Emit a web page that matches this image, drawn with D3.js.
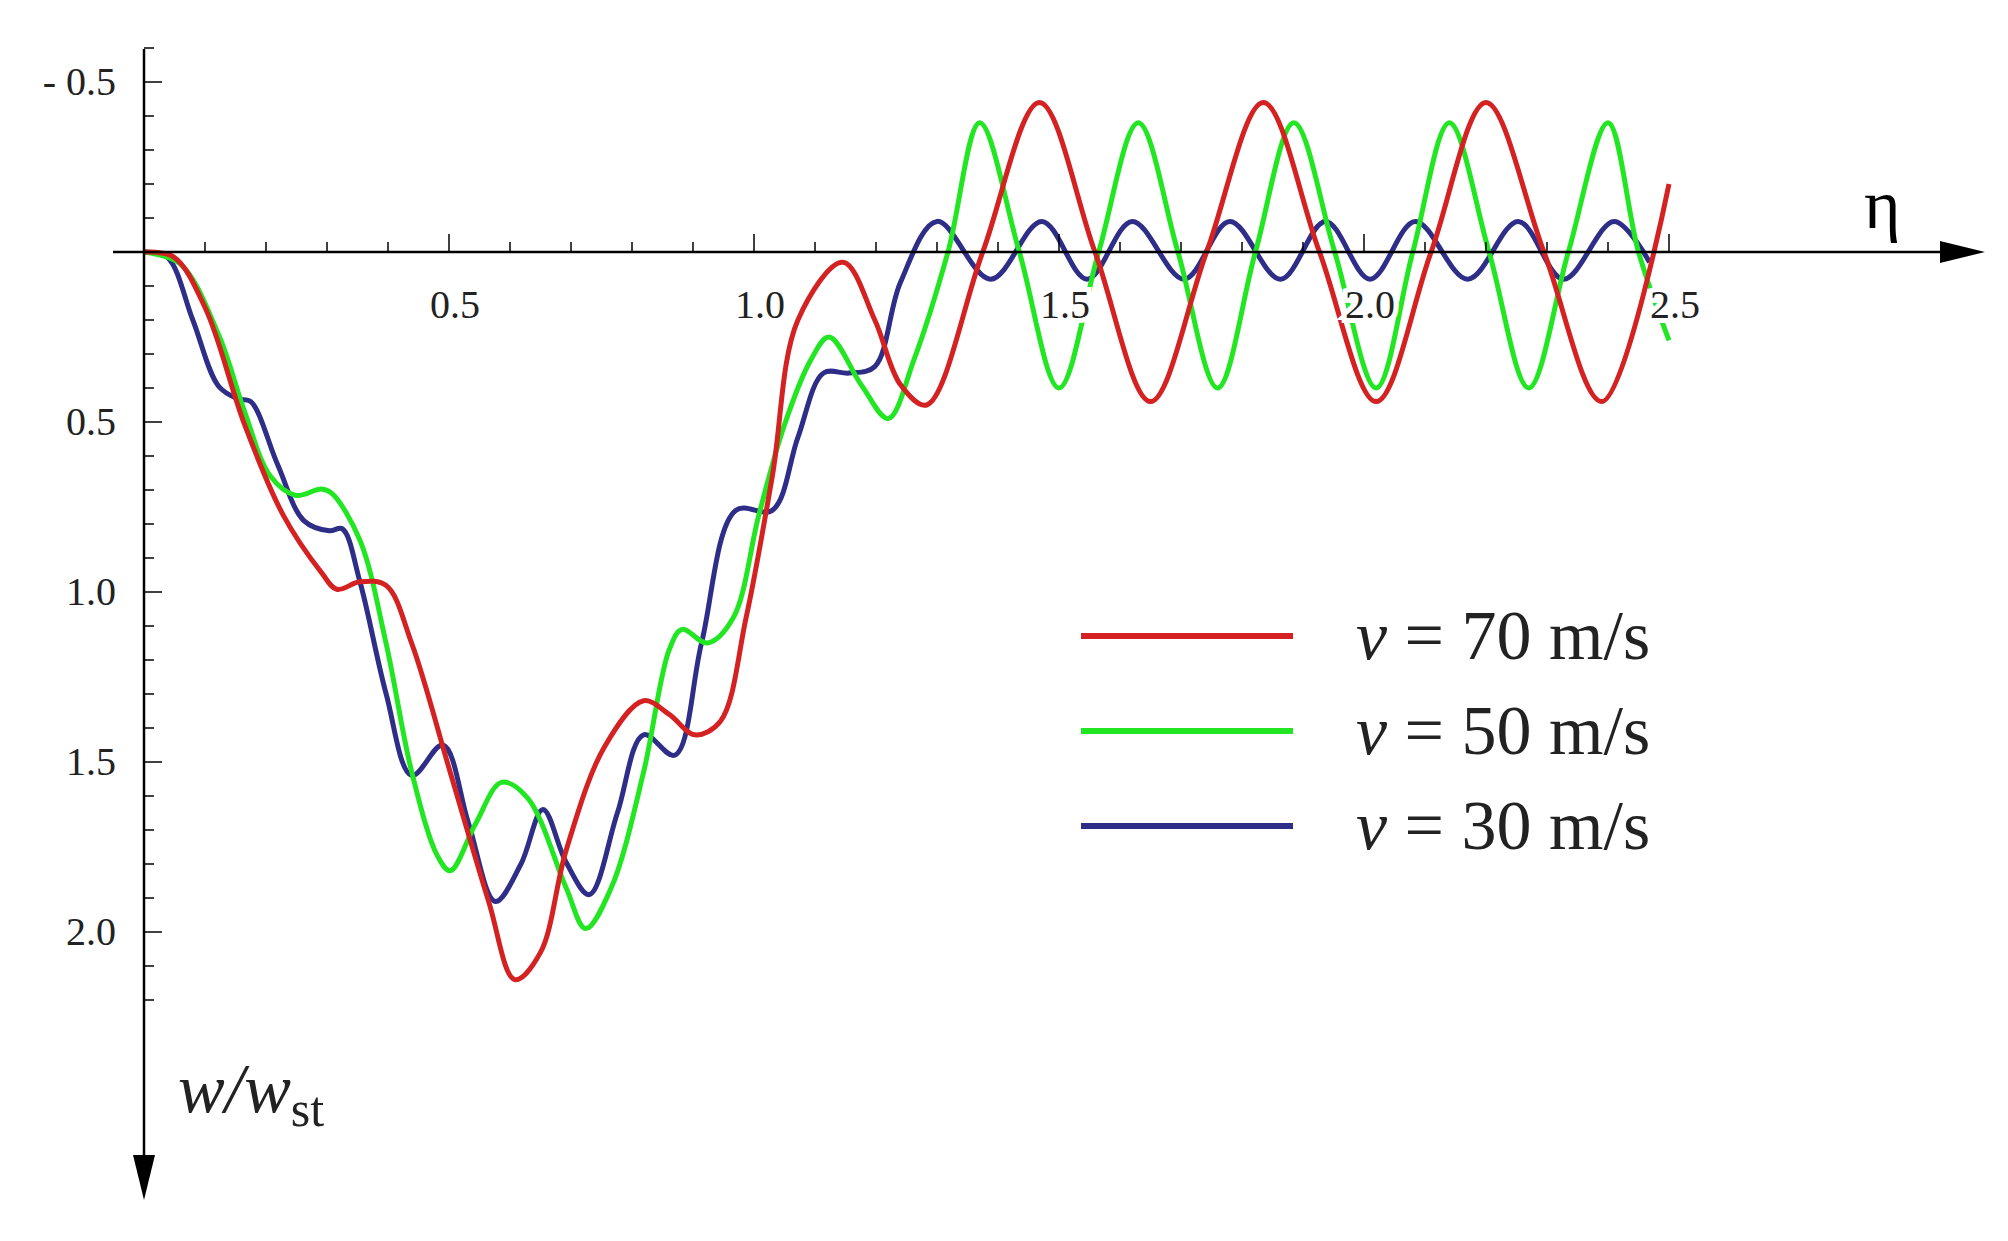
<!DOCTYPE html>
<html><head><meta charset="utf-8">
<script src="https://cdn.jsdelivr.net/npm/d3@7"></script>
<style>body{margin:0;background:#fff}</style></head>
<body><svg id="c" width="2008" height="1241"></svg>
<script>
const xTicks=[0.5,1.0,1.5,2.0,2.5];
const xTickLabels=["0.5","1.0","1.5","2.0","2.5"];
const yTicks=[-0.5,0.5,1.0,1.5,2.0];
const yTickLabels=["- 0.5","0.5","1.0","1.5","2.0"];
const seriesNames=["v = 70 m/s","v = 50 m/s","v = 30 m/s"];
const colors=["#d42222","#22e622","#2e2e88"];
const etaRed=[0,.049,.101,.165,.228,.291,.316,.354,.397,.439,.502,.565,.608,.650,.692,.755,.819,.861,.903,.945,.987,1.03,1.072,1.146,1.198,1.24,1.283,1.375,1.468,1.559,1.65,1.742,1.835,1.927,2.02,2.11,2.2,2.295,2.39,2.5];
const wRed=[0,.015,.167,.508,.773,.943,.992,.970,.981,1.152,1.53,1.91,2.14,2.06,1.76,1.455,1.32,1.36,1.42,1.38,1.076,.66,.2,.03,.2,.39,.45,0,-.44,0,.44,0,-.44,0,.44,0,-.44,0,.44,-.2];
const etaGreen=[0,.059,.122,.165,.207,.249,.291,.308,.354,.397,.439,.481,.502,.544,.586,.629,.692,.724,.766,.819,.861,.882,.924,.966,1.008,1.05,1.093,1.123,1.177,1.22,1.262,1.318,1.37,1.435,1.50,1.565,1.63,1.695,1.76,1.822,1.885,1.952,2.02,2.08,2.14,2.205,2.27,2.335,2.40,2.45,2.5];
const wGreen=[0,.034,.242,.47,.659,.716,.697,.71,.848,1.152,1.53,1.776,1.82,1.68,1.56,1.606,1.87,1.99,1.87,1.53,1.17,1.11,1.15,1.076,.773,.508,.318,.25,.394,.49,.318,0,-.38,0,.4,0,-.38,0,.4,0,-.38,0,.4,0,-.38,0,.4,0,-.38,0,.26];
const etaBlue=[0,.038,.08,.122,.154,.175,.219,.262,.304,.325,.354,.397,.439,.49,.532,.576,.618,.654,.692,.73,.776,.819,.87,.914,.97,1.03,1.072,1.114,1.156,1.198,1.24,1.30,1.388,1.472,1.546,1.62,1.705,1.78,1.863,1.937,2.01,2.084,2.17,2.253,2.327,2.41,2.468];
const wBlue=[0,.015,.2,.394,.432,.44,.625,.79,.82,.814,.97,1.30,1.54,1.45,1.68,1.91,1.80,1.64,1.795,1.89,1.65,1.42,1.48,1.15,.76,.76,.545,.356,.356,.337,.09,-.09,.08,-.09,.08,-.09,.08,-.09,.08,-.09,.08,-.09,.08,-.09,.08,-.09,.03];

const svg=d3.select("#c");
const x=d3.scaleLinear().domain([0,2.5]).range([144,1669]);
const y=d3.scaleLinear().domain([-0.5,2.0]).range([82,932]);
const serif="'Liberation Serif','DejaVu Serif',serif";
const series=[[etaRed,wRed],[etaGreen,wGreen],[etaBlue,wBlue]];
const line=d3.line().x(d=>x(d[0])).y(d=>y(d[1])).curve(d3.curveCatmullRom.alpha(0.5));
[2,1,0].forEach(i=>{
  const [e,w]=series[i];
  svg.append("path").attr("d",line(e.map((v,j)=>[v,w[j]]))).attr("fill","none")
    .attr("stroke",colors[i]).attr("stroke-width",5);
});
const ax=svg.append("g").attr("stroke","#000");
ax.append("line").attr("x1",113).attr("x2",1950).attr("y1",y(0)).attr("y2",y(0)).attr("stroke-width",2.5);
svg.append("path").attr("d",`M1985,${y(0)} L1940,${y(0)-11} L1940,${y(0)+11}Z`).attr("fill","#000");
ax.append("line").attr("x1",x(0)).attr("x2",x(0)).attr("y1",49).attr("y2",1165).attr("stroke-width",2.5);
svg.append("path").attr("d",`M${x(0)},1200 L${x(0)-11},1155 L${x(0)+11},1155Z`).attr("fill","#000");
d3.range(1,26).forEach(k=>{const v=k/10;const major=k%5===0;
  ax.append("line").attr("x1",x(v)).attr("x2",x(v)).attr("y1",y(0)).attr("y2",y(0)-(major?18:10)).attr("stroke-width",1.5);});
d3.range(-6,23).forEach(k=>{if(k===0)return;const v=k/10;const major=k%5===0;
  ax.append("line").attr("x1",x(0)).attr("x2",x(0)+(major?18:10)).attr("y1",y(v)).attr("y2",y(v)).attr("stroke-width",1.5);});
xTicks.forEach((v,i)=>svg.append("text").attr("x",x(v)+6).attr("y",y(0)+66).attr("text-anchor","middle")
  .attr("font-family",serif).attr("font-size",40).attr("fill","#222").attr("stroke","#fff").attr("stroke-width",10)
  .attr("paint-order","stroke").text(xTickLabels[i]));
yTicks.forEach((v,i)=>svg.append("text").attr("x",x(0)-28).attr("y",y(v)+13).attr("text-anchor","end")
  .attr("font-family",serif).attr("font-size",40).attr("fill","#222").text(yTickLabels[i]));
svg.append("text").attr("x",1864).attr("y",228).attr("font-family",serif).attr("font-size",70).text("η");
const wl=svg.append("text").attr("x",178).attr("y",1112).attr("font-family",serif).attr("font-size",70).attr("fill","#222");
wl.append("tspan").attr("font-style","italic").text("w/w");
wl.append("tspan").attr("font-size",50).attr("dy",14).text("st");
seriesNames.forEach((n,i)=>{const ly=636+i*95;
  svg.append("line").attr("x1",1081).attr("x2",1293).attr("y1",ly).attr("y2",ly).attr("stroke",colors[i]).attr("stroke-width",6);
  const t=svg.append("text").attr("x",1356).attr("y",ly+23).attr("font-family",serif).attr("font-size",70).attr("fill","#222");
  t.append("tspan").attr("font-style","italic").text(n.slice(0,1));
  t.append("tspan").text(n.slice(1));
});
</script></body></html>
